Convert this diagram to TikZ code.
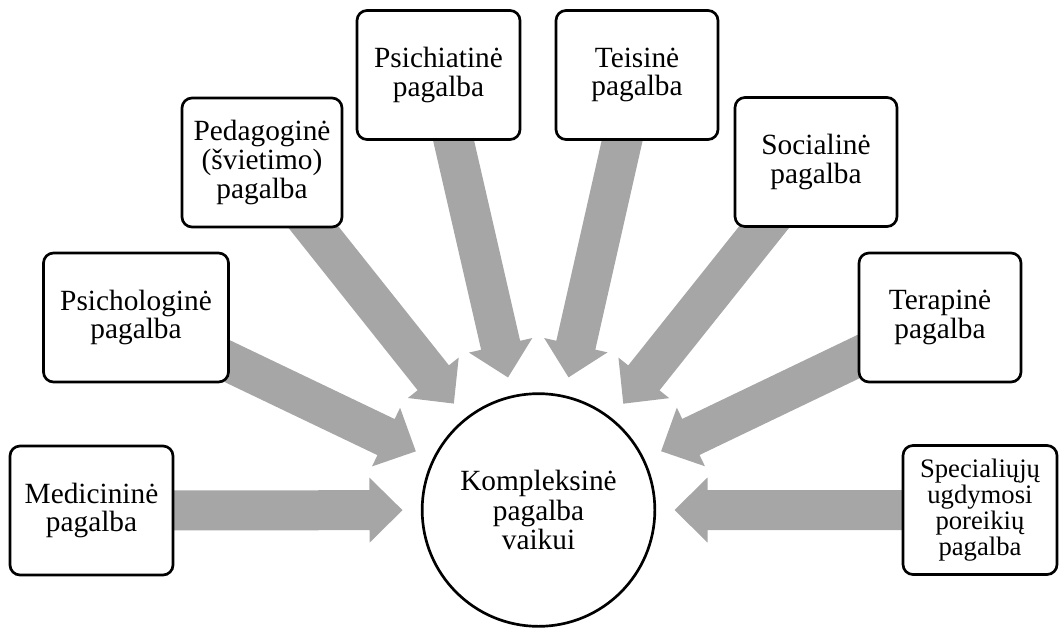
\documentclass[tikz,border=0pt]{standalone}
\usepackage{fontspec}
\setmainfont{Liberation Serif}
\usetikzlibrary{calc}
\pgfdeclarelayer{bg}
\pgfsetlayers{bg,main}
\definecolor{arrowgray}{RGB}{166,166,166}
% radial block arrow from a box towards the hub
\newcommand{\radarrow}[1]{%
  \coordinate (#1-t) at ($(hub.center)!102pt!(#1.center)$);
  \coordinate (#1-b) at ($(hub.center)!126.75pt!(#1.center)$);
  \fill[arrowgray]
    ($(#1.center)!15pt!90:(#1-b)$) --
    ($(#1-b)!15pt!-90:(#1.center)$) --
    ($(#1-b)!24.375pt!-90:(#1.center)$) --
    (#1-t) --
    ($(#1-b)!24.375pt!90:(#1.center)$) --
    ($(#1-b)!15pt!90:(#1.center)$) --
    ($(#1.center)!15pt!-90:(#1-b)$) -- cycle;
}
\begin{document}
\begin{tikzpicture}[x=0.75pt,y=-0.75pt,
  box/.style={draw, line width=2pt, rounded corners=7.5pt, fill=white,
    align=center, inner sep=0pt, minimum height=96.75pt,
    font=\fontsize{22}{21.5}\selectfont},
  hubstyle/.style={circle, draw, line width=2pt, fill=white, align=center,
    inner sep=0pt, minimum size=174.5pt,
    font=\fontsize{22}{22}\selectfont}]
\useasboundingbox (0,0) rectangle (1060,628);

\node[hubstyle] (hub) at (538.5,510) {Kompleksinė\\pagalba\\vaikui};

\node[box, minimum width=122.25pt] (med) at (91.5,510.5) {Medicininė\\pagalba};
\node[box, minimum width=138.75pt] (psl) at (136,317.5) {Psichologinė\\pagalba};
\node[box, minimum width=120pt]    (ped) at (262,162.5) {Pedagoginė\\(švietimo)\\pagalba};
\node[box, minimum width=122.25pt] (psi) at (438.5,75) {Psichiatinė\\pagalba};
\node[box, minimum width=121.5pt]  (tei) at (637,75) {Teisinė\\pagalba};
\node[box, minimum width=121.5pt]  (soc) at (816,162) {Socialinė\\pagalba};
\node[box, minimum width=121.5pt]  (ter) at (940,317.5) {Terapinė\\pagalba};
\node[box, minimum width=115.5pt, font=\fontsize{20}{19.5}\selectfont] (spe) at (980,510)
  {Specialiųjų\\ugdymosi\\poreikių\\pagalba};

\begin{pgfonlayer}{bg}
\radarrow{med}
\radarrow{psl}
\radarrow{ped}
\radarrow{psi}
\radarrow{tei}
\radarrow{soc}
\radarrow{ter}
\radarrow{spe}
\end{pgfonlayer}
\end{tikzpicture}
\end{document}
